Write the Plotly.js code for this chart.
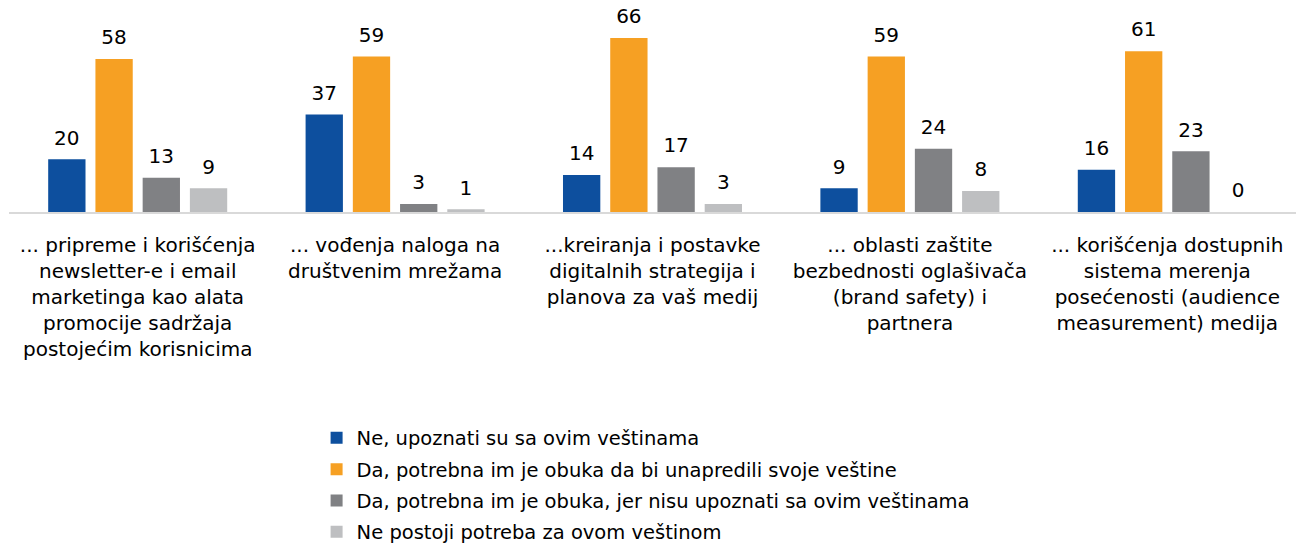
<!DOCTYPE html>
<html><head><meta charset="utf-8">
<script src="https://cdn.plot.ly/plotly-3.0.1.min.js"></script>
<style>html,body{margin:0;padding:0;background:#fff}</style>
</head><body>
<div id="chart" style="width:1297px;height:553px"></div>
<script>
const categories = [
  "... pripreme i korišćenja<br>newsletter-e i email<br>marketinga kao alata<br>promocije sadržaja<br>postojećim korisnicima",
  "... vođenja naloga na<br>društvenim mrežama",
  "...kreiranja i postavke<br>digitalnih strategija i<br>planova za vaš medij",
  "... oblasti zaštite<br>bezbednosti oglašivača<br>(brand safety) i<br>partnera",
  "... korišćenja dostupnih<br>sistema merenja<br>posećenosti (audience<br>measurement) medija"
];
const seriesNames = [
  "Ne, upoznati su sa ovim veštinama",
  "Da, potrebna im je obuka da bi unapredili svoje veštine",
  "Da, potrebna im je obuka, jer nisu upoznati sa ovim veštinama",
  "Ne postoji potreba za ovom veštinom"
];
const neUpoznati = [20, 37, 14, 9, 16];
const daUnaprediti = [58, 59, 66, 59, 61];
const daNisuUpoznati = [13, 3, 17, 24, 23];
const nePotreba = [9, 1, 3, 8, 0];
const colors = ["#0D4F9E", "#F6A023", "#808184", "#BEBFC1"];

const values = [neUpoznati, daUnaprediti, daNisuUpoznati, nePotreba];
const font = "'DejaVu Sans', 'Open Sans', sans-serif";
const GAP = 0.266;

const bars = values.map((v, i) => ({
  type: "bar",
  name: seriesNames[i],
  x: categories,
  y: v,
  offsetgroup: "g" + i,
  alignmentgroup: "a",
  legendgroup: "g" + i,
  marker: {color: colors[i], line: {width: 0}},
  hoverinfo: "name+y"
}));

const labels = values.map((v, i) => ({
  type: "scatter",
  mode: "markers+text",
  x: categories,
  y: v,
  offsetgroup: "g" + i,
  alignmentgroup: "a",
  showlegend: false,
  marker: {size: 14, color: "rgba(0,0,0,0)"},
  text: v.map(String),
  textposition: "top center",
  textfont: {family: font, size: 20, color: "#000"},
  cliponaxis: false,
  hoverinfo: "skip"
}));

const layout = {
  width: 1297, height: 553,
  margin: {l: 9, r: 1, t: 10, b: 341},
  paper_bgcolor: "#fff", plot_bgcolor: "#fff",
  barmode: "group",
  bargap: GAP,
  bargroupgap: 0.21,
  scattermode: "group",
  scattergap: GAP,
  font: {family: font, size: 18, color: "#000"},
  xaxis: {
    showline: true, linecolor: "#D9D9D9", linewidth: 2,
    ticks: "", showgrid: false, zeroline: false,
    tickfont: {family: font, size: 20, color: "#000"},
    ticklabelstandoff: 14
  },
  yaxis: {
    range: [0, 76.6], visible: false, showgrid: false, zeroline: false
  },
  showlegend: true,
  legend: {
    orientation: "v",
    x: 0.239, xanchor: "left",
    yref: "container", y: 0.243, yanchor: "top",
    font: {family: font, size: 19.5, color: "#000"},
    tracegroupgap: 3,
    bgcolor: "rgba(0,0,0,0)"
  }
};

Plotly.newPlot("chart", bars.concat(labels), layout, {displayModeBar: false, staticPlot: true});
</script>
</body></html>
